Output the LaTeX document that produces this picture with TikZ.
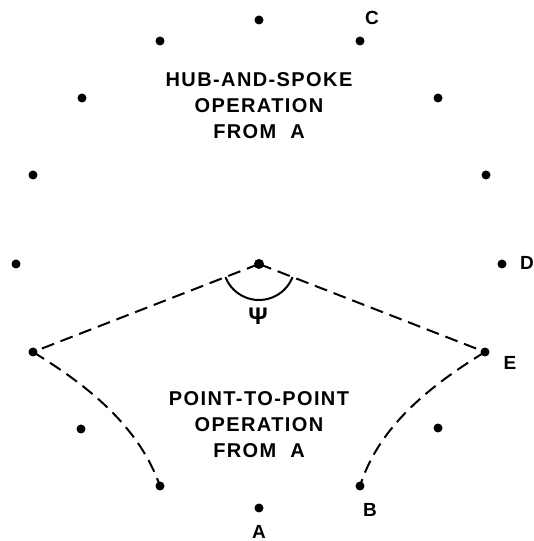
\documentclass[tikz,border=0pt]{standalone}
\usepackage{fontspec}
\setmainfont{Liberation Sans}[LetterSpace=7]
\begin{document}
\begin{tikzpicture}[x=1pt,y=1pt,
  pt/.style={circle,fill=black,inner sep=0pt,minimum size=9pt},
  hubpt/.style={circle,fill=black,inner sep=0pt,minimum size=10pt},
  lbl/.style={font=\fontsize{19}{21}\selectfont\bfseries,inner sep=0pt},
  caption/.style={font=\fontsize{20}{26}\selectfont\bfseries,align=center,inner sep=0pt},
  route/.style={line width=2pt,dash pattern=on 13pt off 7pt},
]
\useasboundingbox (0,0) rectangle (533,541);
% ring of cities
\node[pt] (p0)  at (259,521) {};
\node[pt] (c)   at (360,500) {};
\node[pt] (p2)  at (438,443) {};
\node[pt] (p3)  at (486,366) {};
\node[pt] (d)   at (502,277) {};
\node[pt] (e)   at (485,189) {};
\node[pt] (p6)  at (438,113) {};
\node[pt] (b)   at (360,55)  {};
\node[pt] (a)   at (259,33)  {};
\node[pt] (p9)  at (160,55)  {};
\node[pt] (p10) at (81,112)  {};
\node[pt] (p11) at (33,189)  {};
\node[pt] (p12) at (16,277)  {};
\node[pt] (p13) at (33,366)  {};
\node[pt] (p14) at (82,443)  {};
\node[pt] (p15) at (160,500) {};
% hub
\node[hubpt] (hub) at (259,277) {};
% labels
\node[lbl] (lc) at (372,523) {C};
\node[lbl] (ld) at (527,278) {D};
\node[lbl] (le) at (510,178) {E};
\node[lbl] (lb) at (370,31)  {B};
\node[lbl] (la) at (259,9.5) {A};
\node[caption] (hs) at (259,435) {HUB-AND-SPOKE\\OPERATION\\FROM\ \ A};
\node[caption] (pp) at (259,116.5) {POINT-TO-POINT\\OPERATION\\FROM\ \ A};
\node[font=\fontsize{24}{26}\selectfont\bfseries,inner sep=0pt] (psi) at (258,225) {Ψ};
% routes
\draw[route] (hub.center) -- (p11.center);
\draw[route] (hub.center) -- (e.center);
\draw[route] (p11.center) .. controls (95,151) and (140,111) .. (p9.center);
\draw[route] (e.center) .. controls (423,151) and (378,111) .. (b.center);
% angle between the spokes
\draw[line width=2pt] ([shift={(201.4:36)}]hub.center) arc[start angle=201.4,end angle=338.6,radius=36];
\end{tikzpicture}
\end{document}
